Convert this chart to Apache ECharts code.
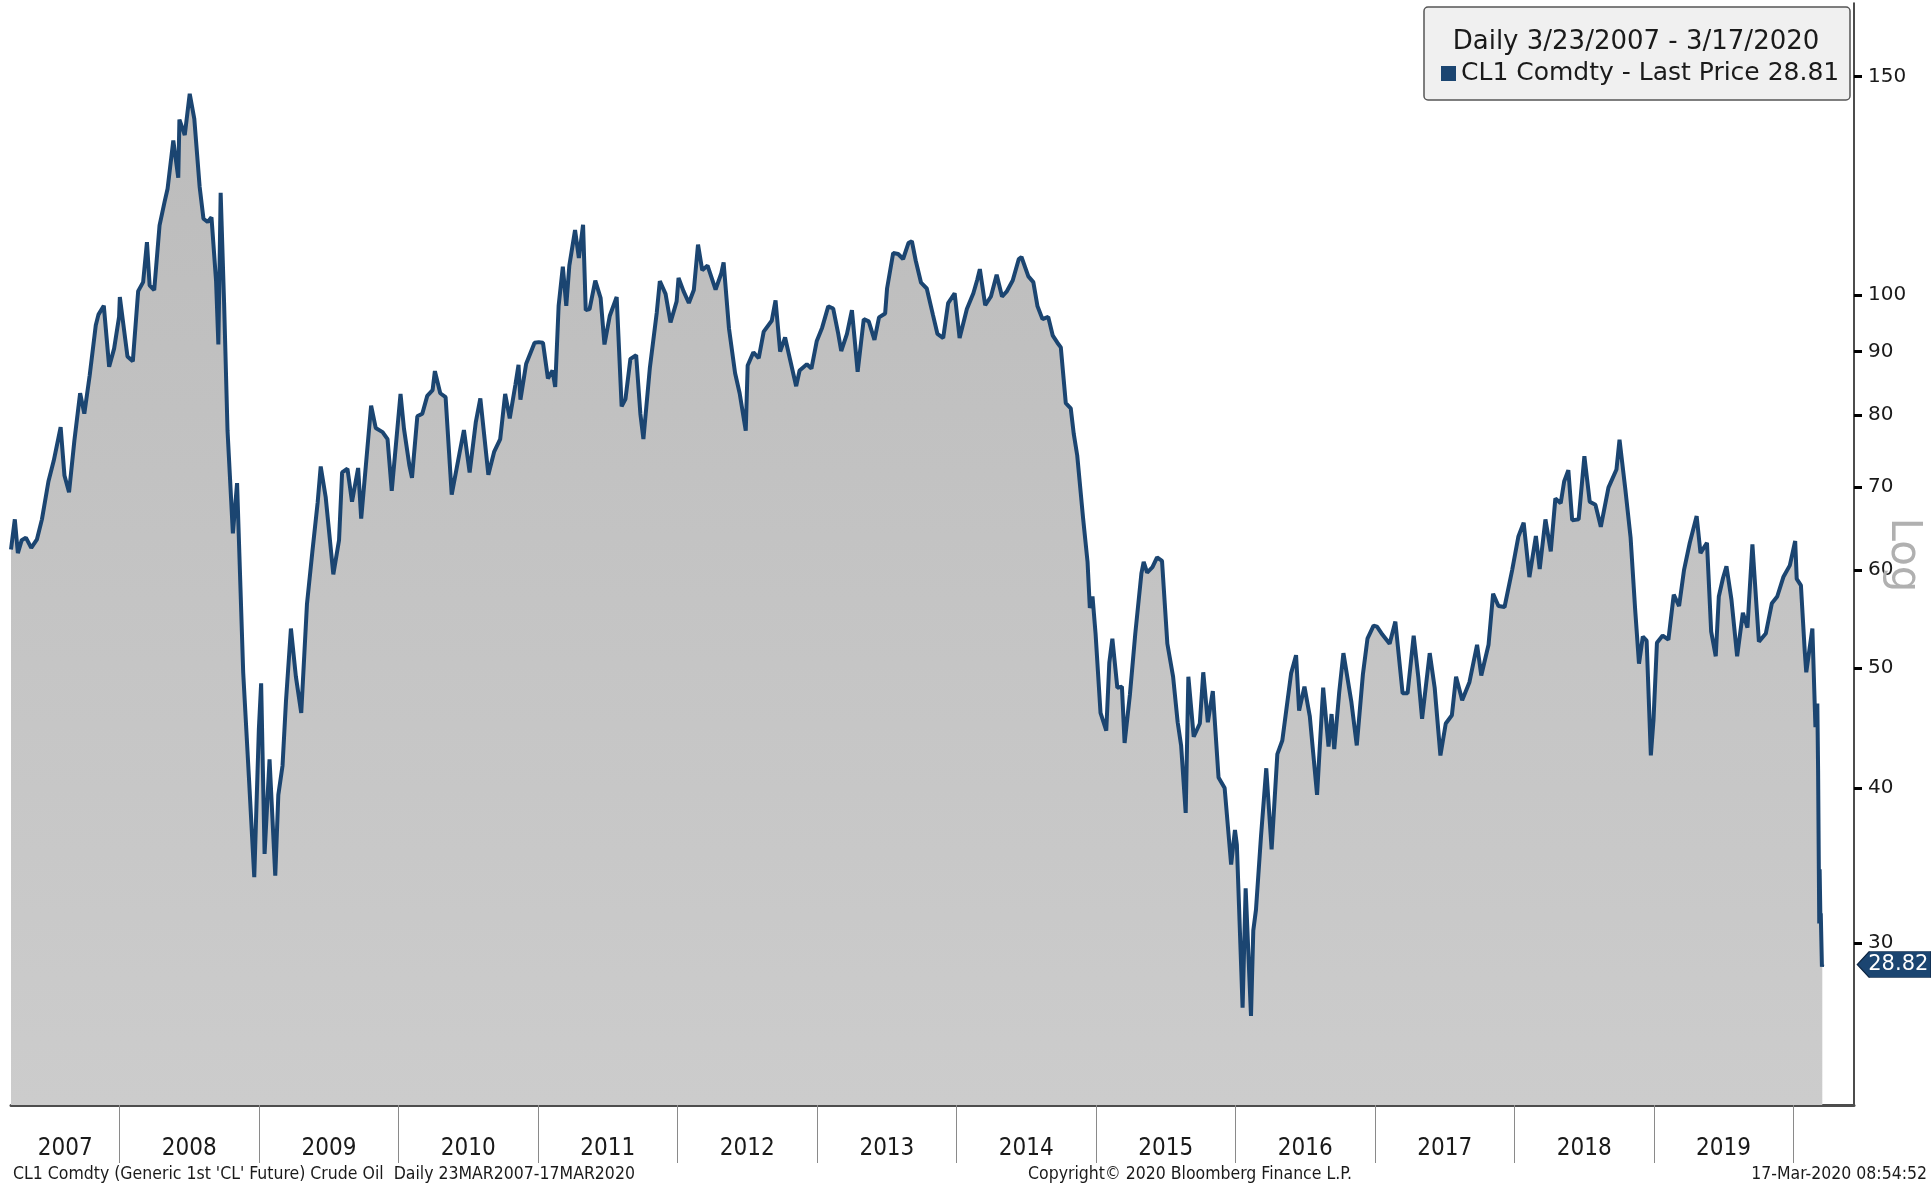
<!DOCTYPE html>
<html>
<head>
<meta charset="utf-8">
<title>CL1 Comdty</title>
<script src="https://cdn.jsdelivr.net/npm/echarts@6/dist/echarts.min.js"></script>
<style>
  html, body { margin: 0; padding: 0; background: #fff; }
  #main { width: 1931px; height: 1188px; }
</style>
</head>
<body>
<div id="main"></div>
<script>
// CL1 generic front-month crude, closes (about two per month, extremes kept)
const priceHistory = [
  ['2007-03-23', 62.3], ['2007-04-02', 65.9], ['2007-04-10', 61.9], ['2007-04-20', 63.4], ['2007-05-01', 63.7],
  ['2007-05-15', 62.5], ['2007-05-30', 63.5], ['2007-06-12', 65.9], ['2007-06-29', 70.7], ['2007-07-13', 73.5],
  ['2007-07-31', 78.2], ['2007-08-10', 71.5], ['2007-08-22', 69.3], ['2007-09-05', 76.3], ['2007-09-20', 83.3],
  ['2007-10-01', 80.2], ['2007-10-15', 86.1], ['2007-10-31', 94.5], ['2007-11-07', 96.4], ['2007-11-21', 98.0],
  ['2007-12-05', 87.5], ['2007-12-18', 90.5], ['2007-12-31', 96.0],
  ['2008-01-02', 99.6], ['2008-01-22', 89.2], ['2008-02-05', 88.4], ['2008-02-19', 100.7], ['2008-03-03', 102.4],
  ['2008-03-13', 110.3], ['2008-03-20', 101.8], ['2008-04-01', 100.9], ['2008-04-15', 113.8], ['2008-04-28', 118.8],
  ['2008-05-06', 121.8], ['2008-05-21', 133.2], ['2008-06-03', 124.3], ['2008-06-06', 138.5], ['2008-06-20', 134.6],
  ['2008-07-03', 145.3], ['2008-07-15', 138.7], ['2008-07-29', 122.2], ['2008-08-08', 115.2], ['2008-08-19', 114.5],
  ['2008-08-29', 115.5], ['2008-09-10', 102.6], ['2008-09-16', 91.2], ['2008-09-22', 120.9], ['2008-10-01', 98.5],
  ['2008-10-10', 77.7], ['2008-10-24', 64.2], ['2008-11-04', 70.5], ['2008-11-20', 49.6], ['2008-12-05', 40.8],
  ['2008-12-19', 33.9], ['2008-12-31', 44.6],
  ['2009-01-06', 48.6], ['2009-01-15', 35.4], ['2009-01-28', 42.2], ['2009-02-12', 34.0], ['2009-02-20', 39.5],
  ['2009-03-03', 41.7], ['2009-03-12', 47.0], ['2009-03-25', 53.8], ['2009-04-07', 49.2], ['2009-04-21', 46.0],
  ['2009-05-06', 56.3], ['2009-05-20', 62.0], ['2009-06-03', 68.0], ['2009-06-11', 72.7], ['2009-06-24', 68.7],
  ['2009-07-14', 59.5], ['2009-07-29', 63.4], ['2009-08-06', 71.9], ['2009-08-20', 72.4], ['2009-09-01', 68.1],
  ['2009-09-17', 72.5], ['2009-09-25', 66.0], ['2009-10-21', 81.4], ['2009-11-02', 78.1], ['2009-11-20', 77.5],
  ['2009-12-03', 76.5], ['2009-12-14', 69.5], ['2009-12-31', 79.4],
  ['2010-01-06', 83.2], ['2010-01-15', 78.0], ['2010-01-29', 72.9], ['2010-02-05', 71.2], ['2010-02-19', 79.8],
  ['2010-03-04', 80.2], ['2010-03-17', 82.9], ['2010-03-31', 83.8], ['2010-04-06', 86.8], ['2010-04-20', 83.3],
  ['2010-05-04', 82.7], ['2010-05-20', 69.0], ['2010-05-25', 68.8], ['2010-06-09', 74.4], ['2010-06-21', 77.8],
  ['2010-07-06', 71.9], ['2010-07-22', 78.9], ['2010-08-03', 82.5], ['2010-08-24', 71.6], ['2010-09-08', 74.7],
  ['2010-09-24', 76.5], ['2010-10-07', 83.2], ['2010-10-19', 79.5], ['2010-11-03', 84.7], ['2010-11-11', 87.8],
  ['2010-11-16', 82.3], ['2010-12-01', 88.0], ['2010-12-23', 91.5],
  ['2011-01-03', 91.6], ['2011-01-14', 91.5], ['2011-01-27', 85.6], ['2011-02-08', 86.9], ['2011-02-15', 84.3],
  ['2011-02-24', 98.0], ['2011-03-07', 105.4], ['2011-03-16', 98.0], ['2011-03-24', 105.6], ['2011-04-08', 112.8],
  ['2011-04-18', 107.1], ['2011-04-29', 113.9], ['2011-05-06', 97.2], ['2011-05-16', 97.4], ['2011-05-31', 102.7],
  ['2011-06-14', 99.4], ['2011-06-24', 91.2], ['2011-07-08', 96.2], ['2011-07-26', 99.6], ['2011-08-08', 81.3],
  ['2011-08-18', 82.4], ['2011-08-31', 88.8], ['2011-09-15', 89.4], ['2011-09-26', 80.2], ['2011-10-04', 76.5],
  ['2011-10-21', 87.4], ['2011-11-08', 96.8], ['2011-11-16', 102.6], ['2011-12-01', 100.2], ['2011-12-14', 95.0],
  ['2011-12-30', 98.8],
  ['2012-01-04', 103.2], ['2012-01-17', 100.7], ['2012-01-31', 98.5], ['2012-02-13', 100.9], ['2012-02-24', 109.8],
  ['2012-03-06', 104.7], ['2012-03-20', 105.6], ['2012-04-10', 101.0], ['2012-04-25', 104.1], ['2012-05-01', 106.2],
  ['2012-05-15', 94.0], ['2012-05-31', 86.5], ['2012-06-12', 83.3], ['2012-06-28', 77.7], ['2012-07-03', 87.7],
  ['2012-07-18', 89.9], ['2012-08-01', 88.9], ['2012-08-14', 93.4], ['2012-09-04', 95.3], ['2012-09-14', 99.0],
  ['2012-09-26', 90.0], ['2012-10-09', 92.4], ['2012-10-22', 88.7], ['2012-11-07', 84.4], ['2012-11-16', 86.9],
  ['2012-12-05', 87.9], ['2012-12-17', 87.2], ['2012-12-31', 91.8],
  ['2013-01-14', 94.1], ['2013-01-30', 97.9], ['2013-02-12', 97.5], ['2013-02-25', 93.1], ['2013-03-05', 90.1],
  ['2013-03-20', 93.0], ['2013-04-02', 97.2], ['2013-04-17', 86.7], ['2013-05-03', 95.6], ['2013-05-16', 95.2],
  ['2013-05-31', 92.0], ['2013-06-12', 95.9], ['2013-06-28', 96.6], ['2013-07-03', 101.2], ['2013-07-19', 108.1],
  ['2013-08-01', 107.9], ['2013-08-14', 106.9], ['2013-08-28', 110.1], ['2013-09-06', 110.5], ['2013-09-16', 106.6],
  ['2013-09-30', 102.3], ['2013-10-15', 101.2], ['2013-10-31', 96.4], ['2013-11-12', 93.0], ['2013-11-27', 92.3],
  ['2013-12-10', 98.5], ['2013-12-27', 100.3],
  ['2014-01-09', 92.3], ['2014-01-28', 97.4], ['2014-02-14', 100.3], ['2014-02-24', 102.8], ['2014-03-03', 104.9],
  ['2014-03-17', 98.1], ['2014-04-01', 99.7], ['2014-04-16', 103.8], ['2014-04-30', 99.7], ['2014-05-12', 100.6],
  ['2014-05-28', 102.7], ['2014-06-13', 106.9], ['2014-06-20', 107.3], ['2014-07-08', 103.5], ['2014-07-21', 102.4],
  ['2014-08-01', 97.9], ['2014-08-14', 95.6], ['2014-08-29', 96.0], ['2014-09-10', 92.7], ['2014-09-22', 91.5],
  ['2014-10-01', 90.7], ['2014-10-14', 81.8], ['2014-10-27', 81.0], ['2014-11-04', 77.2], ['2014-11-13', 74.2],
  ['2014-11-28', 66.2], ['2014-12-10', 60.9], ['2014-12-16', 55.9], ['2014-12-23', 57.1], ['2014-12-31', 53.3],
  ['2015-01-13', 46.0], ['2015-01-28', 44.5], ['2015-02-05', 50.5], ['2015-02-13', 52.8], ['2015-02-26', 48.2],
  ['2015-03-10', 48.3], ['2015-03-17', 43.5], ['2015-03-31', 47.6], ['2015-04-14', 53.3], ['2015-04-30', 59.6],
  ['2015-05-06', 60.9], ['2015-05-15', 59.7], ['2015-05-29', 60.3], ['2015-06-10', 61.4], ['2015-06-23', 61.0],
  ['2015-07-07', 52.3], ['2015-07-22', 49.2], ['2015-08-03', 45.2], ['2015-08-12', 43.3], ['2015-08-24', 38.2],
  ['2015-08-31', 49.2], ['2015-09-14', 44.0], ['2015-09-30', 45.1], ['2015-10-09', 49.6], ['2015-10-21', 45.2],
  ['2015-11-03', 47.9], ['2015-11-18', 40.8], ['2015-12-04', 40.0], ['2015-12-21', 34.7], ['2015-12-31', 37.0],
  ['2016-01-05', 36.0], ['2016-01-20', 26.6], ['2016-01-28', 33.2], ['2016-02-11', 26.2], ['2016-02-17', 30.7],
  ['2016-02-24', 31.9], ['2016-03-08', 36.5], ['2016-03-22', 41.5], ['2016-04-05', 35.7], ['2016-04-20', 42.6],
  ['2016-05-03', 43.7], ['2016-05-26', 49.5], ['2016-06-08', 51.2], ['2016-06-16', 46.2], ['2016-06-30', 48.3],
  ['2016-07-14', 45.7], ['2016-08-02', 39.5], ['2016-08-18', 48.2], ['2016-09-01', 43.2], ['2016-09-09', 45.9],
  ['2016-09-16', 43.0], ['2016-09-29', 47.8], ['2016-10-10', 51.4], ['2016-10-31', 46.9], ['2016-11-14', 43.3],
  ['2016-11-30', 49.4], ['2016-12-12', 52.8], ['2016-12-28', 54.1],
  ['2017-01-06', 54.0], ['2017-01-20', 53.2], ['2017-02-08', 52.3], ['2017-02-23', 54.5], ['2017-03-14', 47.7],
  ['2017-03-27', 47.7], ['2017-04-12', 53.1], ['2017-04-24', 49.2], ['2017-05-04', 45.5], ['2017-05-24', 51.4],
  ['2017-06-06', 48.2], ['2017-06-21', 42.5], ['2017-07-05', 45.1], ['2017-07-21', 45.8], ['2017-08-01', 49.2],
  ['2017-08-17', 47.1], ['2017-09-05', 48.7], ['2017-09-25', 52.2], ['2017-10-06', 49.3], ['2017-10-25', 52.2],
  ['2017-11-06', 57.4], ['2017-11-20', 56.1], ['2017-12-06', 56.0], ['2017-12-26', 60.0],
  ['2018-01-11', 63.8], ['2018-01-25', 65.5], ['2018-02-09', 59.2], ['2018-02-26', 63.9], ['2018-03-08', 60.1],
  ['2018-03-23', 65.9], ['2018-04-06', 62.1], ['2018-04-18', 68.5], ['2018-05-02', 67.9], ['2018-05-11', 70.7],
  ['2018-05-22', 72.2], ['2018-06-01', 65.8], ['2018-06-18', 65.9], ['2018-07-03', 74.1], ['2018-07-17', 68.1],
  ['2018-08-01', 67.7], ['2018-08-15', 65.0], ['2018-09-04', 69.9], ['2018-09-25', 72.3], ['2018-10-03', 76.4],
  ['2018-10-18', 69.8], ['2018-11-01', 63.7], ['2018-11-13', 55.7], ['2018-11-23', 50.4], ['2018-12-03', 53.0],
  ['2018-12-13', 52.6], ['2018-12-24', 42.5], ['2018-12-31', 45.4],
  ['2019-01-09', 52.4], ['2019-01-24', 53.1], ['2019-02-08', 52.7], ['2019-02-22', 57.3], ['2019-03-08', 56.1],
  ['2019-03-21', 60.0], ['2019-04-05', 63.1], ['2019-04-23', 66.3], ['2019-05-03', 61.9], ['2019-05-20', 63.1],
  ['2019-05-31', 53.5], ['2019-06-12', 51.1], ['2019-06-20', 57.1], ['2019-07-01', 59.1], ['2019-07-10', 60.4],
  ['2019-07-23', 56.8], ['2019-08-07', 51.1], ['2019-08-22', 55.4], ['2019-09-03', 53.9], ['2019-09-16', 62.9],
  ['2019-09-27', 55.9], ['2019-10-03', 52.5], ['2019-10-21', 53.3], ['2019-11-06', 56.4], ['2019-11-20', 57.1],
  ['2019-12-06', 59.2], ['2019-12-23', 60.5],
  ['2020-01-06', 63.3], ['2020-01-10', 59.0], ['2020-01-21', 58.3], ['2020-01-31', 51.6], ['2020-02-04', 49.6],
  ['2020-02-20', 53.8], ['2020-02-28', 44.8], ['2020-03-04', 46.8], ['2020-03-06', 41.3], ['2020-03-09', 31.1],
  ['2020-03-10', 34.4], ['2020-03-12', 31.5], ['2020-03-13', 31.7], ['2020-03-16', 28.7], ['2020-03-17', 28.82]
]

const seriesName = 'CL1 Comdty - Last Price 28.81'
const rangeTitle = 'Daily 3/23/2007 - 3/17/2020'
const lastTag = 28.82
const yTicks = [30, 40, 50, 60, 70, 80, 90, 100, 150]
const yearLabels = [2007, 2008, 2009, 2010, 2011, 2012, 2013, 2014, 2015, 2016, 2017, 2018, 2019]
const yearBreaks = [2008, 2009, 2010, 2011, 2012, 2013, 2014, 2015, 2016, 2017, 2018, 2019, 2020]
const axisStart = '2007-03-23'
const axisEnd = '2020-06-08'

const navy = '#1b4571'
const narrowFont = "'DejaVu Sans Condensed', 'Liberation Sans Narrow', sans-serif"

function toTime(s) {
  const p = s.split('-').map(Number)
  return Date.UTC(p[0], p[1] - 1, p[2])
}

const xMin = toTime(axisStart)
const xMax = toTime(axisEnd)
const breakTimes = yearBreaks.map(y => Date.UTC(y, 0, 1))
// labels sit in the middle of each (visible) year
const labelTimes = yearLabels.map(y => {
  const a = Math.max(Date.UTC(y, 0, 1), xMin)
  const b = Date.UTC(y + 1, 0, 1)
  return (a + b) / 2
})

const chart = echarts.init(document.getElementById('main'))

chart.setOption({
  animation: false,
  backgroundColor: '#ffffff',
  grid: {
    left: 11,
    right: 77,
    top: 3,
    bottom: 83,
    outerBoundsMode: 'none'
  },
  legend: {
    data: [seriesName],
    left: 1441,
    top: 61,
    padding: 0,
    icon: 'rect',
    itemWidth: 15,
    itemHeight: 15,
    selectedMode: false,
    z: 6,
    textStyle: {
      fontFamily: 'DejaVu Sans',
      fontSize: 25,
      color: '#1a1a1a'
    }
  },
  xAxis: {
    type: 'value',
    min: xMin,
    max: xMax,
    axisLine: { show: true, lineStyle: { color: '#4d4d4d', width: 3 } },
    axisTick: {
      show: true,
      customValues: breakTimes,
      length: 58,
      lineStyle: { color: '#8a8a8a', width: 1 }
    },
    axisLabel: {
      customValues: labelTimes,
      formatter: v => String(new Date(v).getUTCFullYear()),
      margin: 32,
      fontFamily: narrowFont,
      fontSize: 24,
      color: '#1a1a1a'
    },
    splitLine: { show: false }
  },
  yAxis: {
    type: 'log',
    logBase: 10,
    position: 'right',
    min: 22.2,
    max: 172,
    axisLine: { show: true, lineStyle: { color: '#111', width: 1.5 } },
    axisTick: {
      show: true,
      customValues: yTicks,
      length: 8,
      lineStyle: { color: '#000', width: 3 }
    },
    axisLabel: {
      customValues: yTicks,
      margin: 14,
      fontFamily: 'DejaVu Sans',
      fontSize: 20,
      color: '#1a1a1a'
    },
    splitLine: { show: false }
  },
  series: [{
    name: seriesName,
    type: 'line',
    data: priceHistory.map(d => [toTime(d[0]), d[1]]),
    showSymbol: false,
    symbol: 'none',
    itemStyle: { color: navy },
    lineStyle: { color: navy, width: 4 },
    areaStyle: {
      origin: 'start',
      opacity: 1,
      color: new echarts.graphic.LinearGradient(0, 0, 0, 1, [
        { offset: 0, color: '#bcbcbc' },
        { offset: 1, color: '#cccccc' }
      ])
    },
    markPoint: {
      symbol: 'path://M0,13L12,0L74,0L74,26L12,26Z',
      symbolSize: [74, 26],
      symbolOffset: [72, 0],
      itemStyle: { color: navy, borderColor: '#0c2440', borderWidth: 1 },
      label: {
        show: true,
        color: '#ffffff',
        fontFamily: 'DejaVu Sans',
        fontSize: 21,
        offset: [4, 0],
        formatter: String(lastTag)
      },
      data: [{ coord: [toTime(priceHistory[priceHistory.length - 1][0]), lastTag] }]
    }
  }],
  graphic: [
    {
      type: 'rect',
      z: 5,
      shape: { x: 1424, y: 7, width: 426, height: 93, r: 4 },
      style: { fill: '#f0f0f0', stroke: '#555', lineWidth: 1.5 }
    },
    {
      type: 'text',
      z: 6,
      x: 1636,
      y: 42,
      style: {
        text: rangeTitle,
        fontFamily: 'DejaVu Sans',
        fontSize: 26,
        fill: '#1a1a1a',
        align: 'center',
        verticalAlign: 'middle'
      }
    },
    {
      type: 'text',
      z: 6,
      x: 1903,
      y: 555,
      rotation: -Math.PI / 2,
      style: {
        text: 'Log',
        fontFamily: 'DejaVu Sans',
        fontSize: 42,
        fill: '#b0b0b0',
        align: 'center',
        verticalAlign: 'middle'
      }
    },
    {
      type: 'text',
      x: 13,
      y: 1174,
      style: {
        text: "CL1 Comdty (Generic 1st 'CL' Future) Crude Oil  Daily 23MAR2007-17MAR2020",
        fontFamily: narrowFont,
        fontSize: 17.5,
        fill: '#1a1a1a',
        align: 'left',
        verticalAlign: 'middle'
      }
    },
    {
      type: 'text',
      x: 1190,
      y: 1174,
      style: {
        text: 'Copyright\u00a9 2020 Bloomberg Finance L.P.',
        fontFamily: narrowFont,
        fontSize: 17.5,
        fill: '#1a1a1a',
        align: 'center',
        verticalAlign: 'middle'
      }
    },
    {
      type: 'text',
      x: 1927,
      y: 1174,
      style: {
        text: '17-Mar-2020 08:54:52',
        fontFamily: narrowFont,
        fontSize: 17.5,
        fill: '#1a1a1a',
        align: 'right',
        verticalAlign: 'middle'
      }
    }
  ]
})
</script>
</body>
</html>
